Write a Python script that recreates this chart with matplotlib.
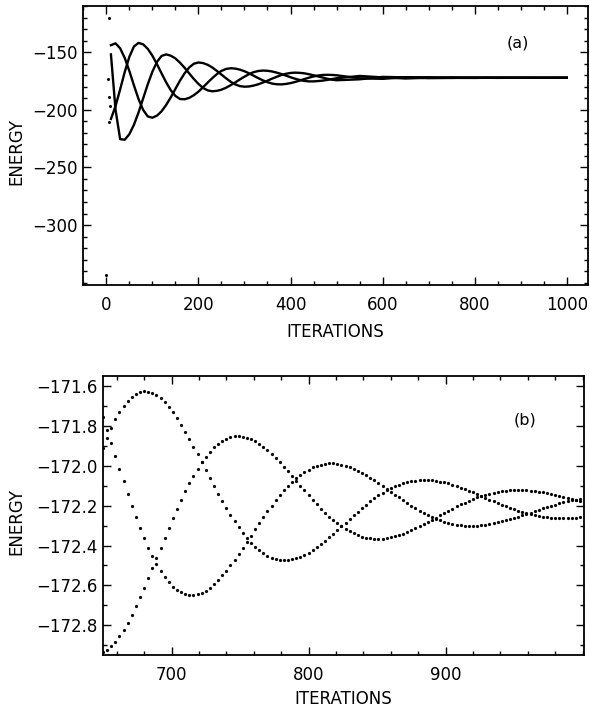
import numpy as np
import matplotlib
matplotlib.use("Agg")
import matplotlib.pyplot as plt
from matplotlib.ticker import MultipleLocator, FuncFormatter

plt.rcParams['font.family'] = ['DejaVu Sans']

# ---- panel (a): whole run, three interleaved branches ----
iter_a = list(range(10, 501, 10)) + list(range(550, 1001, 50))

branch_a1 = [-144.0, -142.4, -146.7, -155.1, -166.4, -178.9, -190.8, -200.2, -205.8, -206.9,
             -205.1, -201.3, -195.8, -189.2, -181.9, -174.7, -168.4, -163.3, -160.1, -159.0,
             -159.5, -161.0, -163.3, -166.3, -169.5, -172.7, -175.7, -178.0, -179.5, -180.0,
             -179.8, -179.0, -177.9, -176.4, -174.8, -173.0, -171.4, -169.9, -168.8, -168.1,
             -167.8, -168.0, -168.4, -169.2, -170.1, -171.1, -172.1, -173.1, -173.9, -174.4,
             -173.6, -171.5, -171.9, -172.6, -172.4, -172.0, -172.1, -172.3, -172.25, -172.16]
branch_a2 = [-152.0, -200.0, -225.5, -226.0, -221.2, -213.0, -202.3, -190.1, -177.9, -167.0,
             -158.5, -153.3, -152.0, -153.1, -155.5, -159.2, -163.6, -168.5, -173.3, -177.6,
             -181.1, -183.2, -184.0, -183.6, -182.6, -180.9, -178.7, -176.3, -173.7, -171.3,
             -169.1, -167.4, -166.4, -166.0, -166.2, -166.8, -167.8, -169.0, -170.4, -171.8,
             -173.1, -174.2, -175.0, -175.4, -175.4, -175.1, -174.7, -174.1, -173.4, -172.7,
             -170.7, -171.9, -172.9, -172.2, -171.86, -172.19, -172.36, -172.21, -172.12, -172.19]
branch_a3 = [-208.0, -196.8, -182.3, -167.2, -154.1, -145.1, -142.0, -143.3, -147.2, -153.1,
             -160.5, -168.5, -176.3, -183.1, -188.0, -190.7, -190.9, -189.7, -187.4, -184.3,
             -180.5, -176.5, -172.6, -169.1, -166.3, -164.6, -164.0, -164.3, -165.2, -166.6,
             -168.4, -170.5, -172.6, -174.5, -176.1, -177.3, -177.9, -178.0, -177.6, -176.9,
             -175.9, -174.7, -173.4, -172.2, -171.1, -170.3, -169.8, -169.7, -169.8, -170.1,
             -172.7, -173.2, -171.8, -171.8, -172.36, -172.41, -172.12, -172.08, -172.24, -172.25]

# first few iterations, before the branches settle
start_iter = [0, 3, 5, 5, 8, 5]
start_energy = [-343.0, -173.5, -120.0, -188.6, -197.0, -211.0]

# ---- panel (b): iterations 650-1000, one dot every third iteration ----
iter_b = np.arange(650, 1000, 3)

branch_b1 = [-171.912, -171.858,
             -171.809, -171.766, -171.728, -171.697, -171.671, -171.651, -171.636, -171.628, -171.624, -171.626,
             -171.633, -171.644, -171.660, -171.680, -171.704, -171.731, -171.761, -171.794, -171.829, -171.865,
             -171.903, -171.942, -171.982, -172.021, -172.061, -172.100, -172.139, -172.176, -172.212, -172.246,
             -172.278, -172.309, -172.337, -172.362, -172.385, -172.406, -172.424, -172.439, -172.451, -172.461,
             -172.467, -172.472, -172.473, -172.472, -172.469, -172.464, -172.456, -172.447, -172.435, -172.423,
             -172.408, -172.393, -172.376, -172.359, -172.341, -172.322, -172.304, -172.285, -172.266, -172.247,
             -172.229, -172.211, -172.194, -172.178, -172.163, -172.148, -172.135, -172.123, -172.112, -172.102,
             -172.094, -172.087, -172.081, -172.076, -172.073, -172.071, -172.070, -172.071, -172.072, -172.075,
             -172.079, -172.083, -172.088, -172.095, -172.101, -172.109, -172.116, -172.125, -172.133, -172.142,
             -172.151, -172.160, -172.169, -172.178, -172.186, -172.195, -172.203, -172.210, -172.218, -172.224,
             -172.231, -172.236, -172.242, -172.246, -172.250, -172.254, -172.256, -172.259, -172.260, -172.261,
             -172.261, -172.261, -172.261, -172.259, -172.258]
branch_b2 = [-172.934, -172.923,
             -172.906, -172.884, -172.857, -172.825, -172.789, -172.749, -172.706, -172.661, -172.613, -172.564,
             -172.514, -172.463, -172.412, -172.361, -172.311, -172.263, -172.215, -172.170, -172.127, -172.086,
             -172.048, -172.013, -171.982, -171.953, -171.928, -171.906, -171.888, -171.874, -171.863, -171.855,
             -171.851, -171.850, -171.852, -171.857, -171.865, -171.876, -171.888, -171.904, -171.921, -171.940,
             -171.960, -171.981, -172.004, -172.027, -172.051, -172.075, -172.099, -172.123, -172.147, -172.170,
             -172.193, -172.214, -172.235, -172.254, -172.272, -172.289, -172.304, -172.317, -172.329, -172.339,
             -172.348, -172.355, -172.360, -172.364, -172.366, -172.366, -172.365, -172.363, -172.359, -172.354,
             -172.348, -172.341, -172.333, -172.324, -172.314, -172.304, -172.293, -172.282, -172.271, -172.259,
             -172.248, -172.236, -172.225, -172.214, -172.203, -172.193, -172.184, -172.174, -172.166, -172.158,
             -172.151, -172.144, -172.139, -172.134, -172.130, -172.127, -172.124, -172.122, -172.121, -172.121,
             -172.122, -172.123, -172.125, -172.127, -172.130, -172.133, -172.137, -172.141, -172.146, -172.151,
             -172.156, -172.161, -172.166, -172.172, -172.177]
branch_b3 = [-171.754, -171.819,
             -171.885, -171.950, -172.015, -172.078, -172.140, -172.200, -172.257, -172.312, -172.362, -172.410,
             -172.453, -172.493, -172.528, -172.558, -172.585, -172.606, -172.624, -172.636, -172.645, -172.649,
             -172.649, -172.645, -172.637, -172.626, -172.611, -172.593, -172.573, -172.550, -172.526, -172.499,
             -172.471, -172.442, -172.411, -172.381, -172.350, -172.319, -172.288, -172.258, -172.228, -172.200,
             -172.173, -172.147, -172.123, -172.100, -172.080, -172.061, -172.045, -172.030, -172.018, -172.007,
             -171.999, -171.993, -171.989, -171.987, -171.987, -171.989, -171.993, -171.998, -172.005, -172.013,
             -172.023, -172.034, -172.046, -172.058, -172.072, -172.085, -172.100, -172.114, -172.129, -172.144,
             -172.158, -172.173, -172.187, -172.200, -172.213, -172.225, -172.237, -172.247, -172.257, -172.266,
             -172.274, -172.281, -172.287, -172.292, -172.295, -172.298, -172.300, -172.301, -172.301, -172.300,
             -172.298, -172.296, -172.293, -172.289, -172.284, -172.279, -172.273, -172.267, -172.261, -172.254,
             -172.248, -172.241, -172.234, -172.227, -172.220, -172.213, -172.206, -172.200, -172.194, -172.188,
             -172.183, -172.178, -172.173, -172.169, -172.165]


def style(ax):
    ax.tick_params(which='both', direction='in', top=True, right=True, width=1.0)
    ax.tick_params(which='major', length=6, labelsize=12)
    ax.tick_params(which='minor', length=3)
    ax.tick_params(axis='x', pad=8)
    ax.tick_params(axis='y', pad=4)
    for s in ax.spines.values():
        s.set_linewidth(1.3)


fig = plt.figure(figsize=(5.9, 7.13), dpi=100)

# (a)
ax1 = fig.add_axes([0.1412, 0.6003, 0.8554, 0.3913])
ax1.plot(iter_a, branch_a1, '-', color='black', lw=1.7)
ax1.plot(iter_a, branch_a2, '-', color='black', lw=1.7)
ax1.plot(iter_a, branch_a3, '-', color='black', lw=1.7)
ax1.plot(start_iter, start_energy, 'o', color='black', ms=2.2, mec='none')
ax1.set_xlim(-50, 1046)
ax1.set_ylim(-352, -110)
ax1.xaxis.set_major_locator(MultipleLocator(200))
ax1.xaxis.set_minor_locator(MultipleLocator(50))
ax1.set_yticks([-300, -250, -200, -150])
ax1.yaxis.set_minor_locator(MultipleLocator(10))
style(ax1)
ax1.set_xlabel('ITERATIONS', fontsize=12)
ax1.set_ylabel('ENERGY', fontsize=12)
ax1.xaxis.set_label_coords(0.5, -0.135)
ax1.yaxis.set_label_coords(-0.1155, 0.48)
ax1.text(0.861, 0.866, '(a)', transform=ax1.transAxes, fontsize=11.5, ha='center', va='center')

# (b)
ax2 = fig.add_axes([0.1746, 0.0814, 0.8153, 0.3906])
for ys in (branch_b1, branch_b2, branch_b3):
    ax2.plot(iter_b, ys, 'o', color='black', ms=2.3, mec='none')
ax2.set_xlim(650, 1001)
ax2.set_ylim(-172.95, -171.55)
ax2.set_xticks([700, 800, 900])
ax2.xaxis.set_minor_locator(MultipleLocator(20))
ax2.set_yticks([-172.8, -172.6, -172.4, -172.2, -172.0, -171.8, -171.6])
ax2.yaxis.set_major_formatter(FuncFormatter(lambda v, p: f'{v:.1f}'.replace('-', '\u2212')))
ax2.yaxis.set_minor_locator(MultipleLocator(0.1))
style(ax2)
ax2.set_xlabel('ITERATIONS', fontsize=12)
ax2.set_ylabel('ENERGY', fontsize=12)
ax2.xaxis.set_label_coords(0.5, -0.126)
ax2.yaxis.set_label_coords(-0.162, 0.478)
ax2.text(0.877, 0.844, '(b)', transform=ax2.transAxes, fontsize=11.5, ha='center', va='center')

fig.savefig('out.png', dpi=100)
